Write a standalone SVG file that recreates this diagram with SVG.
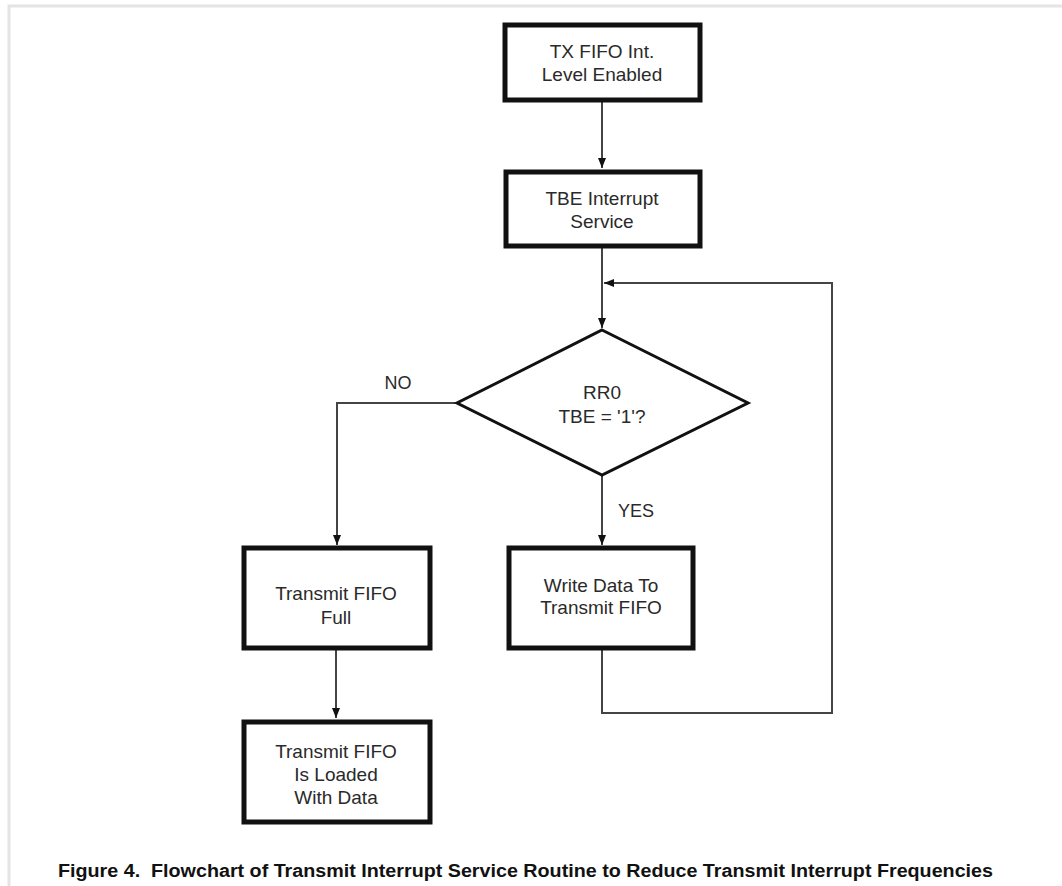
<svg xmlns="http://www.w3.org/2000/svg" width="1062" height="886" viewBox="0 0 1062 886">
<style>
.box{fill:#fff;stroke:#111;stroke-width:5}
.t{font-family:"Liberation Sans",Arial,sans-serif;font-size:19px;fill:#2a2a2a;text-anchor:middle}
.lbl{font-family:"Liberation Sans",Arial,sans-serif;font-size:18px;fill:#2a2a2a;text-anchor:middle}
.c{fill:none;stroke:#444;stroke-width:2}
.cap{font-family:"Liberation Sans",Arial,sans-serif;font-size:18px;font-weight:bold;fill:#111}
</style>
<defs>
<marker id="ah" viewBox="0 0 10 10" refX="10" refY="5" markerWidth="10" markerHeight="11" markerUnits="userSpaceOnUse" orient="auto">
<path d="M0,1 L10,5 L0,9 Z" fill="#111"/>
</marker>
</defs>
<rect x="0" y="0" width="1062" height="886" fill="#fff"/>
<path d="M9,886 V6 H1062" fill="none" stroke="#e4e4e4" stroke-width="3"/>
<g id="connectors">
<path class="c" d="M602,100 V168" marker-end="url(#ah)"/>
<path class="c" d="M602,246 V328" marker-end="url(#ah)"/>
<path class="c" d="M457,403 H337 V545" marker-end="url(#ah)"/>
<path class="c" d="M602,475 V545" marker-end="url(#ah)"/>
<path class="c" d="M336,648 V718" marker-end="url(#ah)"/>
<path class="c" d="M602,648 V713 H832 V283 H604" marker-end="url(#ah)"/>
<text class="lbl" x="398" y="389">NO</text>
<text class="lbl" x="636" y="517">YES</text>
</g>
<g id="n1">
<rect class="box" x="505" y="25" width="195" height="75"/>
<text class="t" x="602" y="58">TX FIFO Int.</text>
<text class="t" x="602" y="81">Level Enabled</text>
</g>
<g id="n2">
<rect class="box" x="506" y="172" width="194" height="74"/>
<text class="t" x="602" y="205">TBE Interrupt</text>
<text class="t" x="602" y="228">Service</text>
</g>
<g id="n3">
<path d="M602,330 L748,403 L602,475 L457,403 Z" fill="#fff" stroke="#111" stroke-width="3"/>
<text class="t" x="602" y="399">RR0</text>
<text class="t" x="602" y="423">TBE = '1'?</text>
</g>
<g id="n4">
<rect class="box" x="244" y="548" width="186" height="100"/>
<text class="t" x="336" y="600">Transmit FIFO</text>
<text class="t" x="336" y="624">Full</text>
</g>
<g id="n5">
<rect class="box" x="509" y="548" width="184" height="100"/>
<text class="t" x="601" y="592">Write Data To</text>
<text class="t" x="601" y="614">Transmit FIFO</text>
</g>
<g id="n6">
<rect class="box" x="244" y="722" width="186" height="100"/>
<text class="t" x="336" y="758">Transmit FIFO</text>
<text class="t" x="336" y="781">Is Loaded</text>
<text class="t" x="336" y="804">With Data</text>
</g>
<text class="cap" x="58" y="877" xml:space="preserve" textLength="935" lengthAdjust="spacingAndGlyphs">Figure 4.  Flowchart of Transmit Interrupt Service Routine to Reduce Transmit Interrupt Frequencies</text>
</svg>
